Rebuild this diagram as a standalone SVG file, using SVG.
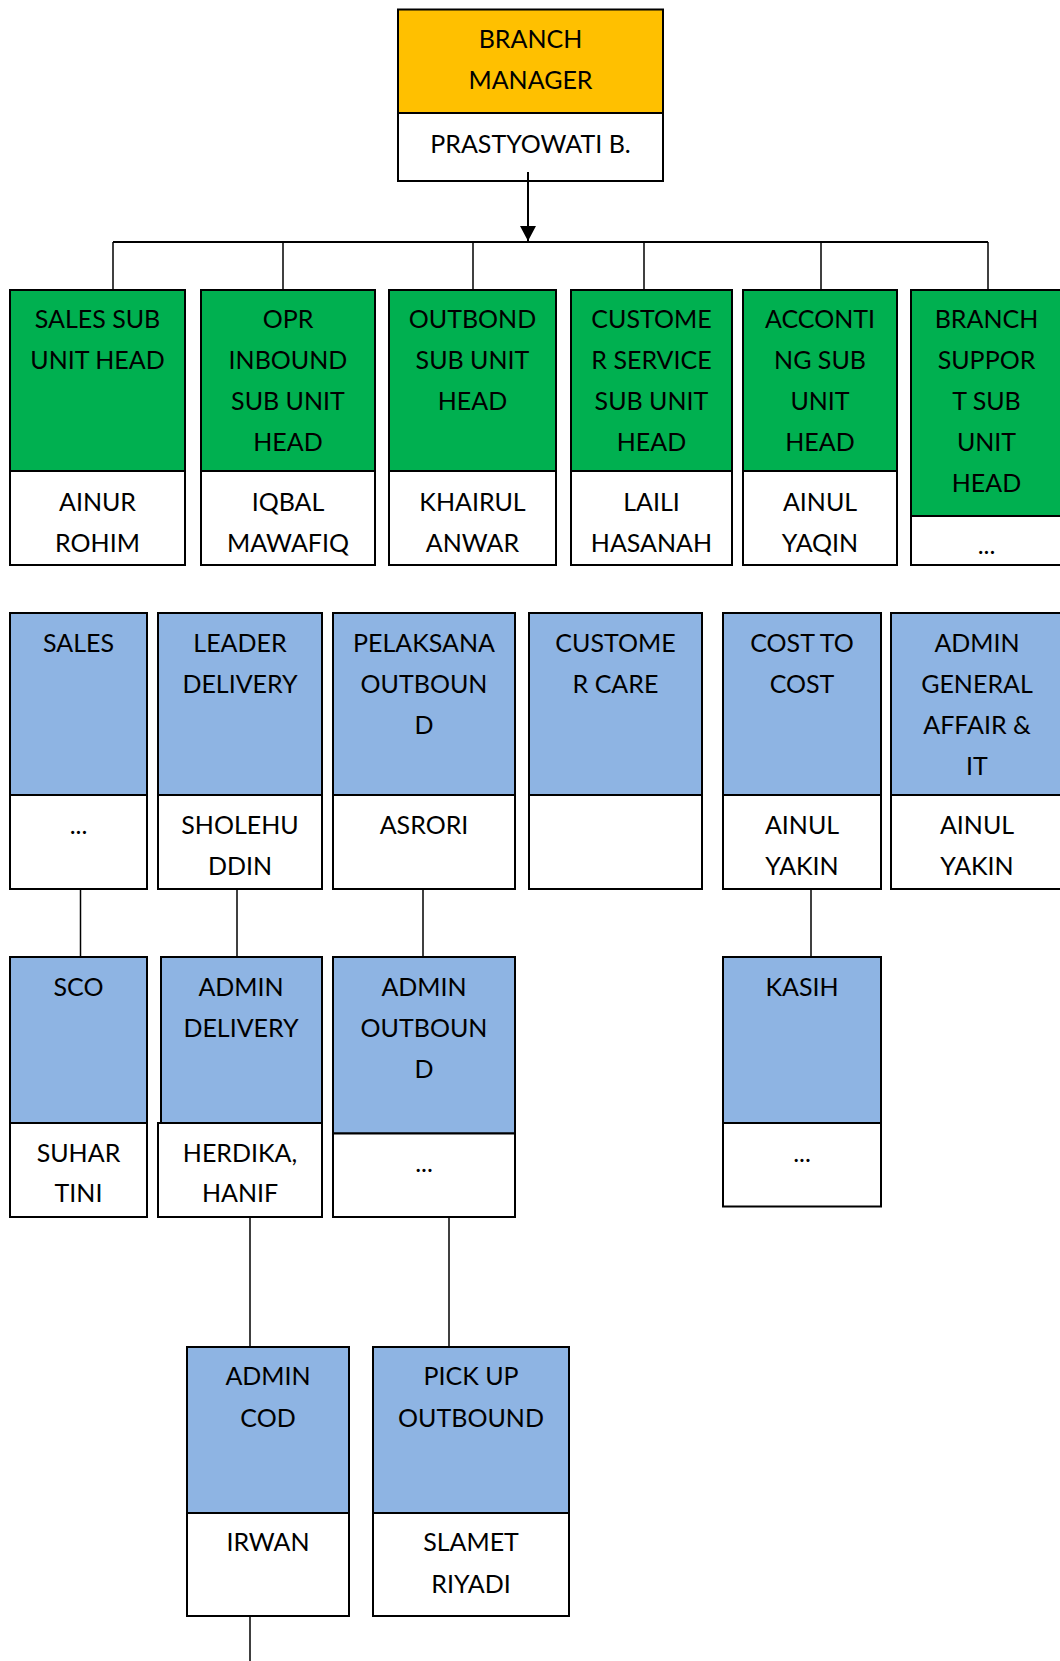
<svg xmlns="http://www.w3.org/2000/svg" width="1060" height="1661" viewBox="0 0 1060 1661">
<style>
  .bx { stroke:#000; stroke-width:2; }
  .y { fill:#FFC000; }
  .g { fill:#00B050; }
  .b { fill:#8EB4E3; }
  .w { fill:#FFFFFF; }
  .t { font-family:"Lato","Liberation Sans",sans-serif; font-size:25px; fill:#000; text-anchor:middle; }
  .ln { stroke:#000; stroke-width:1.5; fill:none; }
  .bus { stroke:#000; stroke-width:2; fill:none; }
</style>
<defs>
  <marker id="arr" markerWidth="16" markerHeight="16" refX="15" refY="8" orient="auto" markerUnits="userSpaceOnUse">
    <path d="M0,0 L15,8 L0,16 Z" fill="#000"/>
  </marker>
</defs>
<rect width="1060" height="1661" fill="#fff"/>

<g id="connectors">
  <line class="bus" x1="113" y1="242" x2="988" y2="242"/>
  <line class="ln" x1="113" y1="242" x2="113" y2="290"/>
  <line class="ln" x1="283" y1="242" x2="283" y2="290"/>
  <line class="ln" x1="473" y1="242" x2="473" y2="290"/>
  <line class="ln" x1="644" y1="242" x2="644" y2="290"/>
  <line class="ln" x1="821" y1="242" x2="821" y2="290"/>
  <line class="ln" x1="988" y1="242" x2="988" y2="290"/>
  <line class="ln" x1="80.5" y1="889" x2="80.5" y2="957"/>
  <line class="ln" x1="237" y1="889" x2="237" y2="957"/>
  <line class="ln" x1="423" y1="889" x2="423" y2="957"/>
  <line class="ln" x1="811" y1="889" x2="811" y2="957"/>
  <line class="ln" x1="250" y1="1217" x2="250" y2="1347"/>
  <line class="ln" x1="449" y1="1217" x2="449" y2="1347"/>
  <line class="ln" x1="250" y1="1616" x2="250" y2="1661"/>
</g>

<g id="n-branch-manager">
  <rect class="bx y" x="398" y="9.5" width="265" height="103.5"/>
  <rect class="bx w" x="398" y="113" width="265" height="68"/>
  <text class="t" x="530.5" y="47.5">BRANCH</text>
  <text class="t" x="530.5" y="89">MANAGER</text>
  <text class="t" x="530.5" y="153">PRASTYOWATI B.</text>
</g>
<g id="arrow">
  <line stroke="#000" stroke-width="2" x1="528" y1="172" x2="528" y2="241" marker-end="url(#arr)"/>
</g>

<g id="n-sales-sub">
  <rect class="bx g" x="10" y="290" width="175" height="181"/>
  <rect class="bx w" x="10" y="471" width="175" height="94"/>
  <text class="t" x="97.5" y="328">SALES SUB</text>
  <text class="t" x="97.5" y="369">UNIT HEAD</text>
  <text class="t" x="97.5" y="511">AINUR</text>
  <text class="t" x="97.5" y="552">ROHIM</text>
</g>
<g id="n-opr-inbound">
  <rect class="bx g" x="201" y="290" width="174" height="181"/>
  <rect class="bx w" x="201" y="471" width="174" height="94"/>
  <text class="t" x="288" y="328">OPR</text>
  <text class="t" x="288" y="369">INBOUND</text>
  <text class="t" x="288" y="410">SUB UNIT</text>
  <text class="t" x="288" y="451">HEAD</text>
  <text class="t" x="288" y="511">IQBAL</text>
  <text class="t" x="288" y="552">MAWAFIQ</text>
</g>
<g id="n-outbond">
  <rect class="bx g" x="389" y="290" width="167" height="181"/>
  <rect class="bx w" x="389" y="471" width="167" height="94"/>
  <text class="t" x="472.5" y="328">OUTBOND</text>
  <text class="t" x="472.5" y="369">SUB UNIT</text>
  <text class="t" x="472.5" y="410">HEAD</text>
  <text class="t" x="472.5" y="511">KHAIRUL</text>
  <text class="t" x="472.5" y="552">ANWAR</text>
</g>
<g id="n-customer-service">
  <rect class="bx g" x="571" y="290" width="161" height="181"/>
  <rect class="bx w" x="571" y="471" width="161" height="94"/>
  <text class="t" x="651.5" y="328">CUSTOME</text>
  <text class="t" x="651.5" y="369">R SERVICE</text>
  <text class="t" x="651.5" y="410">SUB UNIT</text>
  <text class="t" x="651.5" y="451">HEAD</text>
  <text class="t" x="651.5" y="511">LAILI</text>
  <text class="t" x="651.5" y="552">HASANAH</text>
</g>
<g id="n-accounting">
  <rect class="bx g" x="743" y="290" width="154" height="181"/>
  <rect class="bx w" x="743" y="471" width="154" height="94"/>
  <text class="t" x="820" y="328">ACCONTI</text>
  <text class="t" x="820" y="369">NG SUB</text>
  <text class="t" x="820" y="410">UNIT</text>
  <text class="t" x="820" y="451">HEAD</text>
  <text class="t" x="820" y="511">AINUL</text>
  <text class="t" x="820" y="552">YAQIN</text>
</g>
<g id="n-branch-support">
  <rect class="bx g" x="911" y="290" width="151" height="226"/>
  <rect class="bx w" x="911" y="516" width="151" height="49"/>
  <text class="t" x="986.5" y="328">BRANCH</text>
  <text class="t" x="986.5" y="369">SUPPOR</text>
  <text class="t" x="986.5" y="410">T SUB</text>
  <text class="t" x="986.5" y="451">UNIT</text>
  <text class="t" x="986.5" y="492">HEAD</text>
  <text class="t" x="986.5" y="554">...</text>
</g>

<g id="n-sales">
  <rect class="bx b" x="10" y="613" width="137" height="182"/>
  <rect class="bx w" x="10" y="795" width="137" height="94"/>
  <text class="t" x="78.5" y="652">SALES</text>
  <text class="t" x="78.5" y="834">...</text>
</g>
<g id="n-leader-delivery">
  <rect class="bx b" x="158" y="613" width="164" height="182"/>
  <rect class="bx w" x="158" y="795" width="164" height="94"/>
  <text class="t" x="240" y="652">LEADER</text>
  <text class="t" x="240" y="693">DELIVERY</text>
  <text class="t" x="240" y="834">SHOLEHU</text>
  <text class="t" x="240" y="875">DDIN</text>
</g>
<g id="n-pelaksana-outbound">
  <rect class="bx b" x="333" y="613" width="182" height="182"/>
  <rect class="bx w" x="333" y="795" width="182" height="94"/>
  <text class="t" x="424" y="652">PELAKSANA</text>
  <text class="t" x="424" y="693">OUTBOUN</text>
  <text class="t" x="424" y="734">D</text>
  <text class="t" x="424" y="834">ASRORI</text>
</g>
<g id="n-customer-care">
  <rect class="bx b" x="529" y="613" width="173" height="182"/>
  <rect class="bx w" x="529" y="795" width="173" height="94"/>
  <text class="t" x="615.5" y="652">CUSTOME</text>
  <text class="t" x="615.5" y="693">R CARE</text>
</g>
<g id="n-cost-to-cost">
  <rect class="bx b" x="723" y="613" width="158" height="182"/>
  <rect class="bx w" x="723" y="795" width="158" height="94"/>
  <text class="t" x="802" y="652">COST TO</text>
  <text class="t" x="802" y="693">COST</text>
  <text class="t" x="802" y="834">AINUL</text>
  <text class="t" x="802" y="875">YAKIN</text>
</g>
<g id="n-admin-ga-it">
  <rect class="bx b" x="891" y="613" width="171" height="182"/>
  <rect class="bx w" x="891" y="795" width="171" height="94"/>
  <text class="t" x="977" y="652">ADMIN</text>
  <text class="t" x="977" y="693">GENERAL</text>
  <text class="t" x="977" y="734">AFFAIR &amp;</text>
  <text class="t" x="977" y="775">IT</text>
  <text class="t" x="977" y="834">AINUL</text>
  <text class="t" x="977" y="875">YAKIN</text>
</g>

<g id="n-sco">
  <rect class="bx b" x="10" y="957" width="137" height="166"/>
  <rect class="bx w" x="10" y="1123" width="137" height="94"/>
  <text class="t" x="78.5" y="996">SCO</text>
  <text class="t" x="78.5" y="1162">SUHAR</text>
  <text class="t" x="78.5" y="1202">TINI</text>
</g>
<g id="n-admin-delivery">
  <rect class="bx b" x="161" y="957" width="161" height="166"/>
  <rect class="bx w" x="158" y="1123" width="164" height="94"/>
  <text class="t" x="241" y="996">ADMIN</text>
  <text class="t" x="241" y="1037">DELIVERY</text>
  <text class="t" x="240" y="1162">HERDIKA,</text>
  <text class="t" x="240" y="1202">HANIF</text>
</g>
<g id="n-admin-outbound">
  <rect class="bx b" x="333" y="957" width="182" height="176.5"/>
  <rect class="bx w" x="333" y="1133.5" width="182" height="83.5"/>
  <text class="t" x="424" y="996">ADMIN</text>
  <text class="t" x="424" y="1037">OUTBOUN</text>
  <text class="t" x="424" y="1078">D</text>
  <text class="t" x="424" y="1172">...</text>
</g>
<g id="n-kasih">
  <rect class="bx b" x="723" y="957" width="158" height="166"/>
  <rect class="bx w" x="723" y="1123" width="158" height="83.5"/>
  <text class="t" x="802" y="996">KASIH</text>
  <text class="t" x="802" y="1162">...</text>
</g>

<g id="n-admin-cod">
  <rect class="bx b" x="187" y="1347" width="162" height="166"/>
  <rect class="bx w" x="187" y="1513" width="162" height="103"/>
  <text class="t" x="268" y="1385">ADMIN</text>
  <text class="t" x="268" y="1427">COD</text>
  <text class="t" x="268" y="1551">IRWAN</text>
</g>
<g id="n-pickup-outbound">
  <rect class="bx b" x="373" y="1347" width="196" height="166"/>
  <rect class="bx w" x="373" y="1513" width="196" height="103"/>
  <text class="t" x="471" y="1385">PICK UP</text>
  <text class="t" x="471" y="1427">OUTBOUND</text>
  <text class="t" x="471" y="1551">SLAMET</text>
  <text class="t" x="471" y="1593">RIYADI</text>
</g>
</svg>
